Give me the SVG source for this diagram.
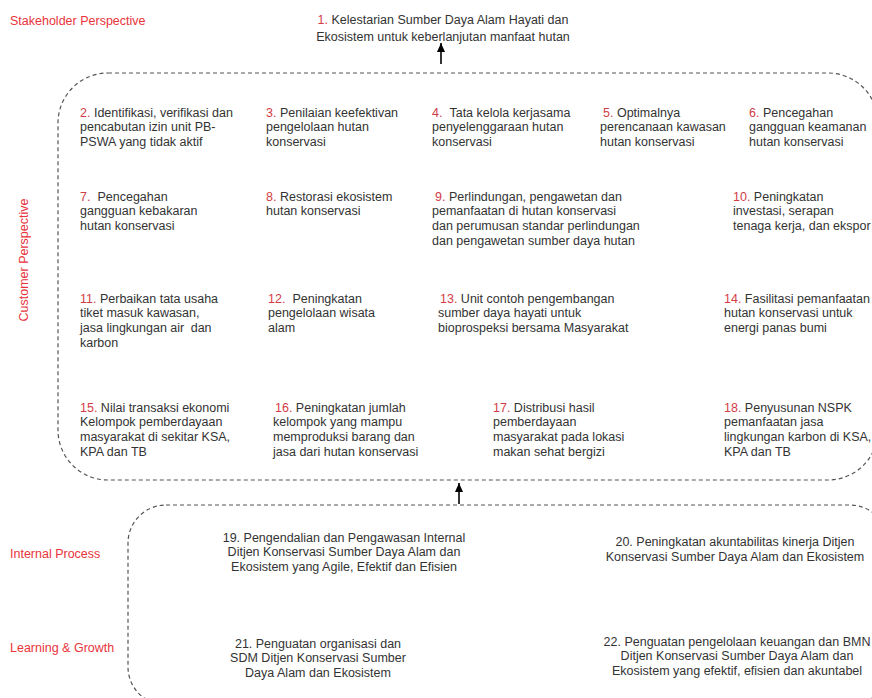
<svg xmlns="http://www.w3.org/2000/svg" width="872" height="698" viewBox="0 0 872 698">
<style>
.t{font-family:"Liberation Sans",Arial,sans-serif;font-size:12.5px;fill:#333}
.n{fill:#d23c46}
.lbl{font-family:"Liberation Sans",Arial,sans-serif;font-size:12.5px;fill:#e8333b}
.c{text-anchor:middle}
.dash{fill:none;stroke:#555;stroke-width:1.2;stroke-dasharray:4 3}
.arr{stroke:#000;stroke-width:1.6;fill:none}
</style>
<defs>
<marker id="ah" viewBox="0 0 10 10" refX="10" refY="5" markerWidth="9" markerHeight="8" markerUnits="userSpaceOnUse" orient="auto" preserveAspectRatio="none"><path d="M0,0 L10,5 L0,10 z" fill="#000"/></marker>
</defs>
<rect width="872" height="698" fill="#fff"/>

<g id="labels">
<text class="lbl" x="10" y="24.5">Stakeholder Perspective</text>
<text class="lbl c" transform="translate(27.5,260) rotate(-90)">Customer Perspective</text>
<text class="lbl" x="10" y="557.5">Internal Process</text>
<text class="lbl" x="10" y="651.5">Learning &amp; Growth</text>
</g>

<g id="frames">
<rect class="dash" x="58" y="73" width="820" height="407" rx="50"/>
<rect class="dash" x="128" y="505" width="760" height="200" rx="38"/>
</g>

<g id="connectors">
<line class="arr" x1="441" y1="64" x2="441" y2="43" marker-end="url(#ah)"/>
<line class="arr" x1="459" y1="504" x2="459" y2="483" marker-end="url(#ah)"/>
</g>

<g id="n1"><text class="t c" x="443" y="23.5"><tspan class="n">1.</tspan> Kelestarian Sumber Daya Alam Hayati dan</text><text class="t c" x="443" y="41">Ekosistem untuk keberlanjutan manfaat hutan</text></g>

<g id="n2"><text class="t" x="80" y="116.5"><tspan class="n">2.</tspan> Identifikasi, verifikasi dan</text><text class="t" x="80" y="131.2">pencabutan izin unit PB-</text><text class="t" x="80" y="145.9">PSWA yang tidak aktif</text></g>
<g id="n3"><text class="t" x="266" y="116.5"><tspan class="n">3.</tspan> Penilaian keefektivan</text><text class="t" x="266" y="131.2">pengelolaan hutan</text><text class="t" x="266" y="145.9">konservasi</text></g>
<g id="n4"><text class="t" x="432" y="116.5"><tspan class="n">4.</tspan><tspan dx="7">Tata kelola kerjasama</tspan></text><text class="t" x="432" y="131.2">penyelenggaraan hutan</text><text class="t" x="432" y="145.9">konservasi</text></g>
<g id="n5"><text class="t" x="603" y="116.5"><tspan class="n">5.</tspan> Optimalnya</text><text class="t" x="600" y="131.2">perencanaan kawasan</text><text class="t" x="600" y="145.9">hutan konservasi</text></g>
<g id="n6"><text class="t" x="749" y="116.5"><tspan class="n">6.</tspan> Pencegahan</text><text class="t" x="749" y="131.2">gangguan keamanan</text><text class="t" x="749" y="145.9">hutan konservasi</text></g>

<g id="n7"><text class="t" x="80" y="200.5"><tspan class="n">7.</tspan><tspan dx="7">Pencegahan</tspan></text><text class="t" x="80" y="215.2">gangguan kebakaran</text><text class="t" x="80" y="229.9">hutan konservasi</text></g>
<g id="n8"><text class="t" x="266" y="200.5"><tspan class="n">8.</tspan> Restorasi ekosistem</text><text class="t" x="266" y="215.2">hutan konservasi</text></g>
<g id="n9"><text class="t" x="435" y="200.5"><tspan class="n">9.</tspan> Perlindungan, pengawetan dan</text><text class="t" x="432" y="215.2">pemanfaatan di hutan konservasi</text><text class="t" x="432" y="229.9">dan perumusan standar perlindungan</text><text class="t" x="432" y="244.6">dan pengawetan sumber daya hutan</text></g>
<g id="n10"><text class="t" x="733" y="200.5"><tspan class="n">10.</tspan> Peningkatan</text><text class="t" x="733" y="215.2">investasi, serapan</text><text class="t" x="733" y="229.9">tenaga kerja, dan ekspor</text></g>

<g id="n11"><text class="t" x="80" y="302.5"><tspan class="n">11.</tspan> Perbaikan tata usaha</text><text class="t" x="80" y="317.2">tiket masuk kawasan,</text><text class="t" x="80" y="331.9">jasa lingkungan air <tspan dx="3">dan</tspan></text><text class="t" x="80" y="346.6">karbon</text></g>
<g id="n12"><text class="t" x="268" y="302.5"><tspan class="n">12.</tspan><tspan dx="7">Peningkatan</tspan></text><text class="t" x="268" y="317.2">pengelolaan wisata</text><text class="t" x="268" y="331.9">alam</text></g>
<g id="n13"><text class="t" x="440" y="302.5"><tspan class="n">13.</tspan> Unit contoh pengembangan</text><text class="t" x="438" y="317.2">sumber daya hayati untuk</text><text class="t" x="438" y="331.9">bioprospeksi bersama Masyarakat</text></g>
<g id="n14"><text class="t" x="724" y="302.5"><tspan class="n">14.</tspan> Fasilitasi pemanfaatan</text><text class="t" x="724" y="317.2">hutan konservasi untuk</text><text class="t" x="724" y="331.9">energi panas bumi</text></g>

<g id="n15"><text class="t" x="80" y="411.5"><tspan class="n">15.</tspan> Nilai transaksi ekonomi</text><text class="t" x="80" y="426.2">Kelompok pemberdayaan</text><text class="t" x="80" y="440.9">masyarakat di sekitar KSA,</text><text class="t" x="80" y="455.6">KPA dan TB</text></g>
<g id="n16"><text class="t" x="275" y="411.5"><tspan class="n">16.</tspan> Peningkatan jumlah</text><text class="t" x="273" y="426.2">kelompok yang mampu</text><text class="t" x="273" y="440.9">memproduksi barang dan</text><text class="t" x="273" y="455.6">jasa dari hutan konservasi</text></g>
<g id="n17"><text class="t" x="493" y="411.5"><tspan class="n">17.</tspan> Distribusi hasil</text><text class="t" x="493" y="426.2">pemberdayaan</text><text class="t" x="493" y="440.9">masyarakat pada lokasi</text><text class="t" x="493" y="455.6">makan sehat bergizi</text></g>
<g id="n18"><text class="t" x="724" y="411.5"><tspan class="n">18.</tspan> Penyusunan NSPK</text><text class="t" x="724" y="426.2">pemanfaatan jasa</text><text class="t" x="724" y="440.9">lingkungan karbon di KSA,</text><text class="t" x="724" y="455.6">KPA dan TB</text></g>

<g id="n19"><text class="t c" x="344" y="541.5">19. Pengendalian dan Pengawasan Internal</text><text class="t c" x="344" y="556.2">Ditjen Konservasi Sumber Daya Alam dan</text><text class="t c" x="344" y="570.9">Ekosistem yang Agile, Efektif dan Efisien</text></g>
<g id="n20"><text class="t c" x="735" y="546">20. Peningkatan akuntabilitas kinerja Ditjen</text><text class="t c" x="735" y="560.7">Konservasi Sumber Daya Alam dan Ekosistem</text></g>
<g id="n21"><text class="t c" x="318" y="647.5">21. Penguatan organisasi dan</text><text class="t c" x="318" y="662.2">SDM Ditjen Konservasi Sumber</text><text class="t c" x="318" y="676.9">Daya Alam dan Ekosistem</text></g>
<g id="n22"><text class="t c" x="737" y="645.5">22. Penguatan pengelolaan keuangan dan BMN</text><text class="t c" x="737" y="660.2">Ditjen Konservasi Sumber Daya Alam dan</text><text class="t c" x="737" y="674.9">Ekosistem yang efektif, efisien dan akuntabel</text></g>
</svg>
